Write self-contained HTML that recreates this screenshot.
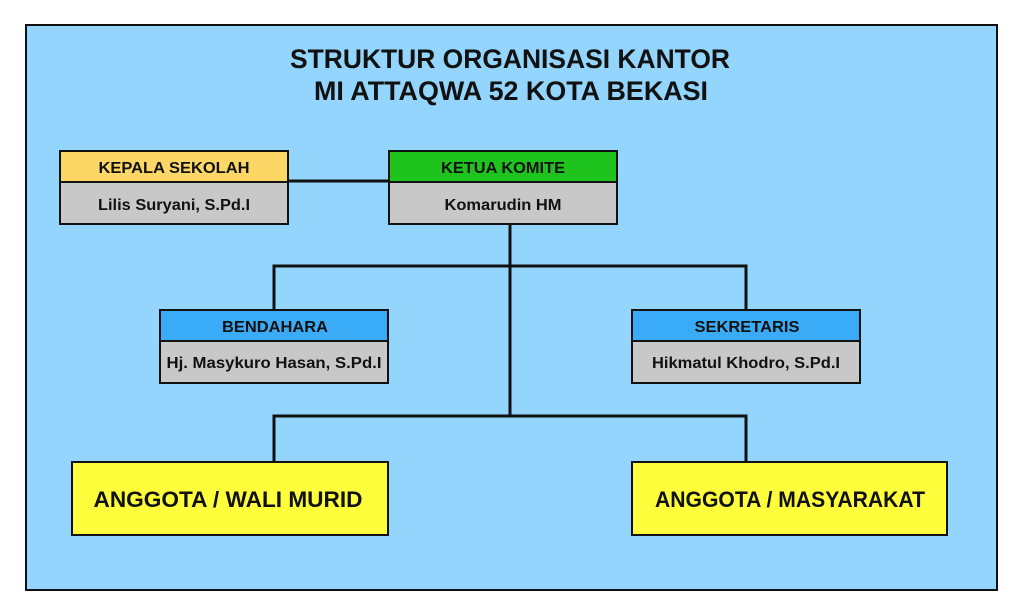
<!DOCTYPE html>
<html><head><meta charset="utf-8"><style>
html,body{margin:0;padding:0;background:#fff;}
svg{display:block;}
text{font-family:"Liberation Sans",sans-serif;font-weight:bold;fill:#111;}
</style></head><body>
<svg width="1024" height="614" viewBox="0 0 1024 614" xmlns="http://www.w3.org/2000/svg">
<rect x="0" y="0" width="1024" height="614" fill="#fff"/>
<rect x="26" y="25" width="971" height="565" fill="#93d5fc" stroke="#111" stroke-width="2"/>
<text x="510" y="68" font-size="27" text-anchor="middle" textLength="440" lengthAdjust="spacingAndGlyphs">STRUKTUR ORGANISASI KANTOR</text>
<text x="511" y="100" font-size="27" text-anchor="middle" textLength="394" lengthAdjust="spacingAndGlyphs">MI ATTAQWA 52 KOTA BEKASI</text>
<g stroke="#111" stroke-width="3" fill="none">
<line x1="288" y1="181" x2="389" y2="181"/>
<line x1="510" y1="224" x2="510" y2="416"/>
<polyline points="274,310 274,266 746,266 746,310"/>
<polyline points="274,462 274,416 746,416 746,462"/>
</g>
<g stroke="#111" stroke-width="2">
<rect x="60" y="151" width="228" height="31" fill="#fcd766"/>
<rect x="60" y="182" width="228" height="42" fill="#c8c8c8"/>
<rect x="389" y="151" width="228" height="31" fill="#1ec31e"/>
<rect x="389" y="182" width="228" height="42" fill="#c8c8c8"/>
<rect x="160" y="310" width="228" height="31" fill="#3aabf6"/>
<rect x="160" y="341" width="228" height="42" fill="#c8c8c8"/>
<rect x="632" y="310" width="228" height="31" fill="#3aabf6"/>
<rect x="632" y="341" width="228" height="42" fill="#c8c8c8"/>
<rect x="72" y="462" width="316" height="73" fill="#fefe3c"/>
<rect x="632" y="462" width="315" height="73" fill="#fefe3c"/>
</g>
<g font-size="16" text-anchor="middle" lengthAdjust="spacingAndGlyphs">
<text x="174" y="173" textLength="151" lengthAdjust="spacingAndGlyphs">KEPALA SEKOLAH</text>
<text x="174" y="210" textLength="152" lengthAdjust="spacingAndGlyphs">Lilis Suryani, S.Pd.I</text>
<text x="503" y="173" textLength="124" lengthAdjust="spacingAndGlyphs">KETUA KOMITE</text>
<text x="503" y="210" textLength="117" lengthAdjust="spacingAndGlyphs">Komarudin HM</text>
<text x="275" y="332" textLength="106" lengthAdjust="spacingAndGlyphs">BENDAHARA</text>
<text x="274" y="368" textLength="215" lengthAdjust="spacingAndGlyphs">Hj. Masykuro Hasan, S.Pd.I</text>
<text x="747" y="332" textLength="105" lengthAdjust="spacingAndGlyphs">SEKRETARIS</text>
<text x="746" y="368" textLength="188" lengthAdjust="spacingAndGlyphs">Hikmatul Khodro, S.Pd.I</text>
</g>
<text x="228" y="507" font-size="22" text-anchor="middle" textLength="269" lengthAdjust="spacingAndGlyphs">ANGGOTA / WALI MURID</text>
<text x="790" y="507" font-size="22" text-anchor="middle" textLength="270" lengthAdjust="spacingAndGlyphs">ANGGOTA / MASYARAKAT</text>
</svg>
</body></html>
